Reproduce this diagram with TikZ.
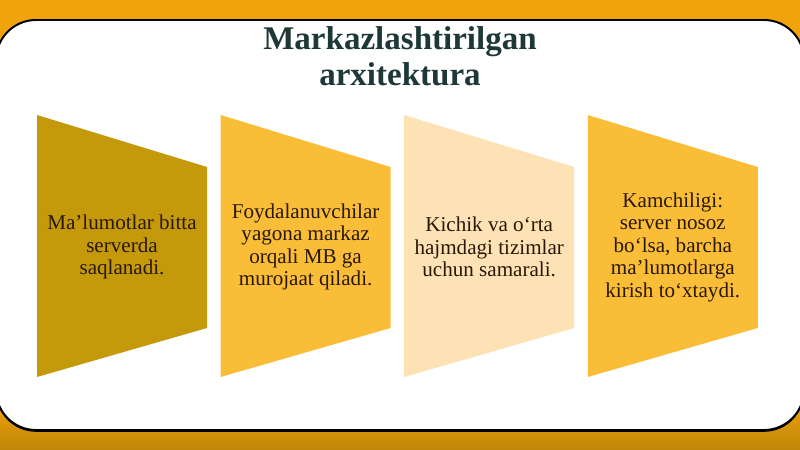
\documentclass[tikz,border=0pt]{standalone}
\usepackage{tikz,xcolor}
\usepackage{fontspec}
\setmainfont{Liberation Serif}
\definecolor{frameorange}{HTML}{F0A30A}
\definecolor{framegold}{HTML}{BF8608}
\definecolor{boxgold}{HTML}{C49A0C}
\definecolor{boxamber}{HTML}{FABD38}
\definecolor{boxpeach}{HTML}{FDE2B6}
\definecolor{titleslate}{HTML}{1E3838}
\definecolor{boxtext}{HTML}{2A1806}
\tikzset{boxlabel/.style={align=center,inner sep=0pt,text=boxtext,font=\fontsize{15}{16}\selectfont}}

\begin{document}
\begin{tikzpicture}
  \useasboundingbox (0,0) rectangle (20,11.225);
  % Background
  \fill[frameorange] (0,0) rectangle (20,11.225);
  \shade[top color=frameorange,bottom color=framegold] (0,0) rectangle (20,1.2);
  % Panel
  \fill[black,rounded corners=1cm] (-0.1,0.43) rectangle (20.1,10.70);
  \filldraw[fill=white,draw=black,line width=1.4pt,rounded corners=1cm] (-0.1,0.475) rectangle (20.1,10.725);
  \node[titleslate,font=\bfseries\fontsize{23.5}{25.5}\selectfont,align=center,inner sep=0pt] (title) at (10cm,9.82cm) {Markazlashtirilgan\\arxitektura};
  % Box 1
  \begin{scope}[xshift=0.925cm]
    \fill[boxgold] (0,8.35) -- (4.25,7.05) -- (4.25,3.025) -- (0,1.8) -- cycle;
    \node[boxlabel] (storage) at (2.125cm,5.05cm) {Ma’lumotlar bitta\\serverda\\saqlanadi.};
  \end{scope}
  % Box 2
  \begin{scope}[xshift=5.515cm]
    \fill[boxamber] (0,8.35) -- (4.25,7.05) -- (4.25,3.025) -- (0,1.8) -- cycle;
    \node[boxlabel] (access) at (2.125cm,5.05cm) {Foydalanuvchilar\\yagona markaz\\orqali MB ga\\murojaat qiladi.};
  \end{scope}
  % Box 3
  \begin{scope}[xshift=10.105cm]
    \fill[boxpeach] (0,8.35) -- (4.25,7.05) -- (4.25,3.025) -- (0,1.8) -- cycle;
    \node[boxlabel] (scale) at (2.125cm,5.05cm) {Kichik va o‘rta\\hajmdagi tizimlar\\uchun samarali.};
  \end{scope}
  % Box 4
  \begin{scope}[xshift=14.695cm]
    \fill[boxamber] (0,8.35) -- (4.25,7.05) -- (4.25,3.025) -- (0,1.8) -- cycle;
    \node[boxlabel] (drawback) at (2.125cm,5.05cm) {Kamchiligi:\\server nosoz\\bo‘lsa, barcha\\ma’lumotlarga\\kirish to‘xtaydi.};
  \end{scope}
\end{tikzpicture}
\end{document}
